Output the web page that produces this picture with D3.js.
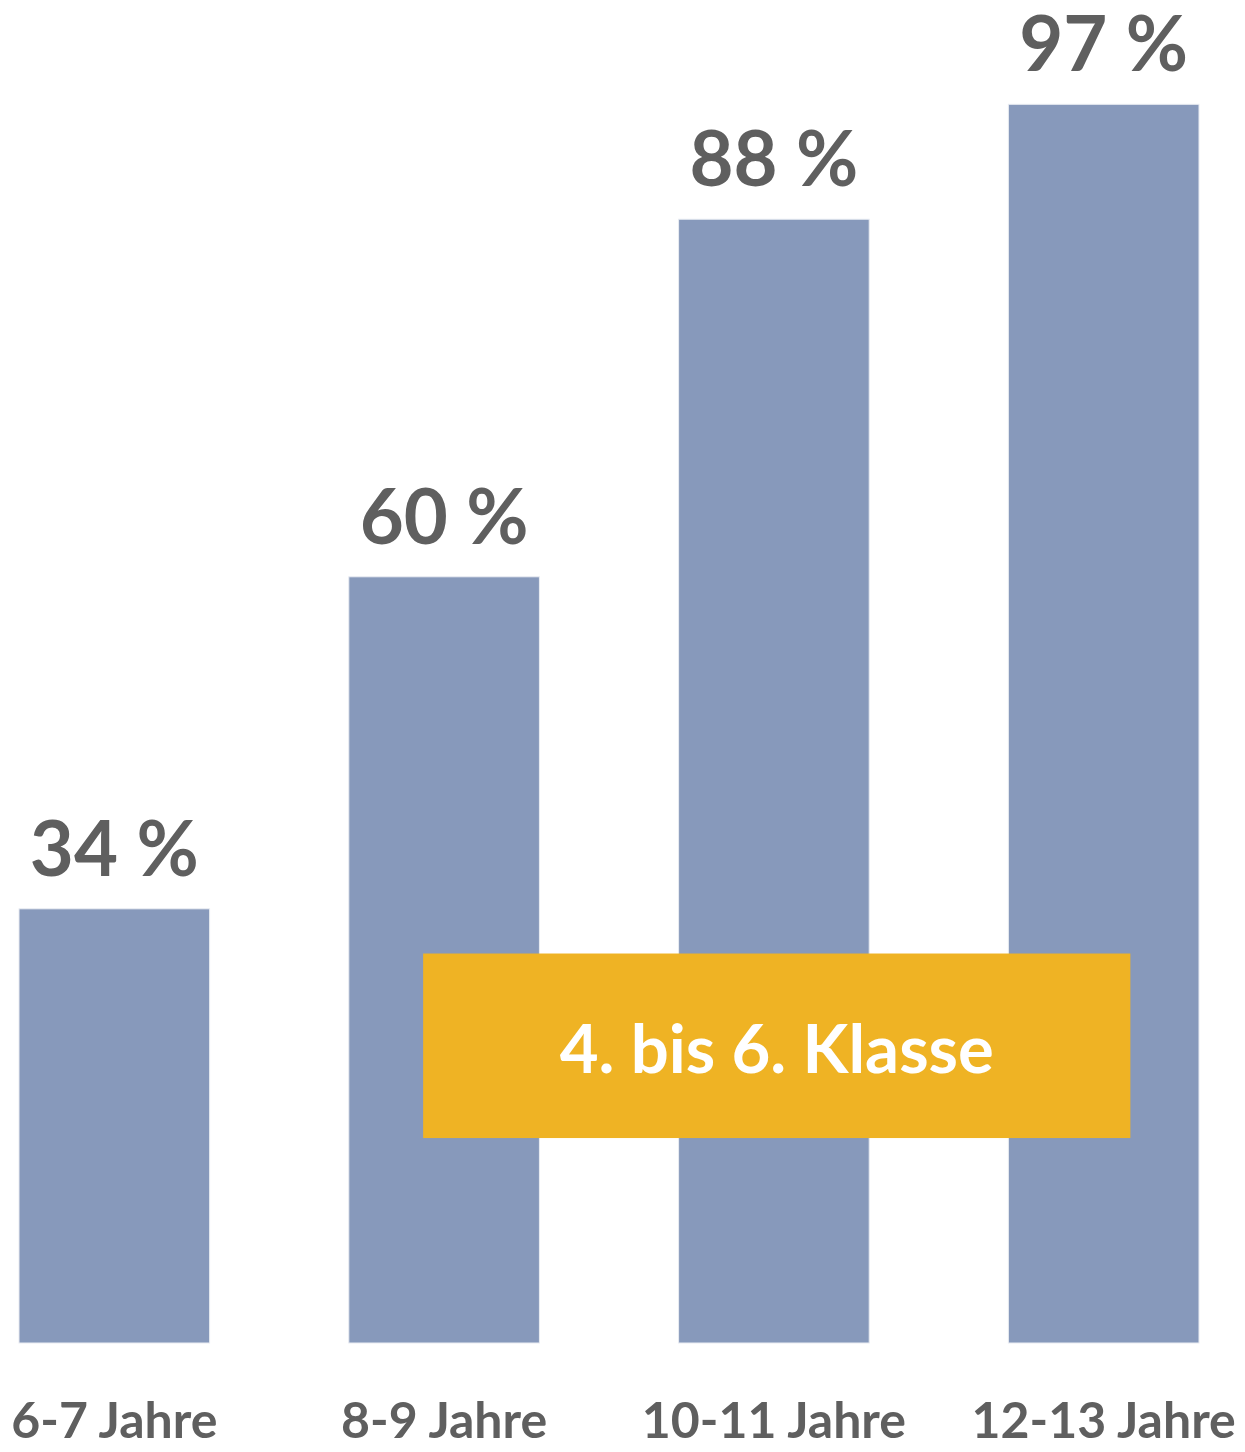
<!DOCTYPE html>
<html>
<head>
<meta charset="utf-8">
<script src="https://cdn.jsdelivr.net/npm/d3@7"></script>
<style>
  body { margin: 0; background: #fff; }
  svg { display: block; }
  text { font-family: Lato, "Open Sans", sans-serif; font-weight: 700; }
</style>
</head>
<body>
<svg id="chart"></svg>
<script>
const WIDTH = 1245,
    HEIGHT = 1452;

// data
const categories = ["6-7 Jahre", "8-9 Jahre", "10-11 Jahre", "12-13 Jahre"];
const values = [34, 60, 88, 97];
const valueLabels = ["34 %", "60 %", "88 %", "97 %"];
const annotationText = "4. bis 6. Klasse";
const annotationRange = [16.05, 30.5]; // in % of the y scale

const svg = d3.select("#chart")
    .attr("width", WIDTH)
    .attr("height", HEIGHT);

const x = d3.scaleBand()
    .domain(categories)
    .range([19, 1199])
    .paddingInner(0.422)
    .paddingOuter(0);

const y = d3.scaleLinear()
    .domain([0, 100])
    .range([1343, 66]);

const datos = categories.map((c, i) => ({ cat: c, value: values[i], label: valueLabels[i] }));

// bars
svg.append("g")
    .selectAll("rect")
    .data(datos)
    .join("rect")
    .attr("x", d => x(d.cat))
    .attr("y", d => y(d.value))
    .attr("width", x.bandwidth())
    .attr("height", d => y(0) - y(d.value))
    .attr("fill", "#8799bb")
    .attr("stroke", "#e9ecf2")
    .attr("stroke-width", 1);

// value labels
svg.append("g")
    .selectAll("text")
    .data(datos)
    .join("text")
    .attr("x", d => x(d.cat) + x.bandwidth() / 2)
    .attr("y", d => y(d.value) - 33)
    .attr("text-anchor", "middle")
    .attr("font-size", 76)
    .attr("fill", "#5f5f5f")
    .text(d => d.label);

// category labels (x axis without line)
const ejeX = d3.axisBottom(x).tickSize(0).tickPadding(0);
const contenedorEjeX = svg.append("g")
    .attr("transform", `translate(0 ${1402})`)
    .call(ejeX);
contenedorEjeX.select(".domain").remove();
contenedorEjeX.selectAll("text")
    .attr("font-size", 50)
    .attr("font-family", "Lato, 'Open Sans', sans-serif")
    .attr("fill", "#5f5f5f")
    .attr("dy", "0.71em");

// annotation box
const boxX0 = x(categories[1]) + x.bandwidth() * 0.39;
const boxX1 = x(categories[3]) + x.bandwidth() * 0.64;
svg.append("rect")
    .attr("x", boxX0)
    .attr("y", y(annotationRange[1]))
    .attr("width", boxX1 - boxX0)
    .attr("height", y(annotationRange[0]) - y(annotationRange[1]))
    .attr("fill", "#efb324");

svg.append("text")
    .attr("x", (boxX0 + boxX1) / 2)
    .attr("y", 1073)
    .attr("text-anchor", "middle")
    .attr("font-size", 67)
    .attr("fill", "#ffffff")
    .text(annotationText);
</script>
</body>
</html>
